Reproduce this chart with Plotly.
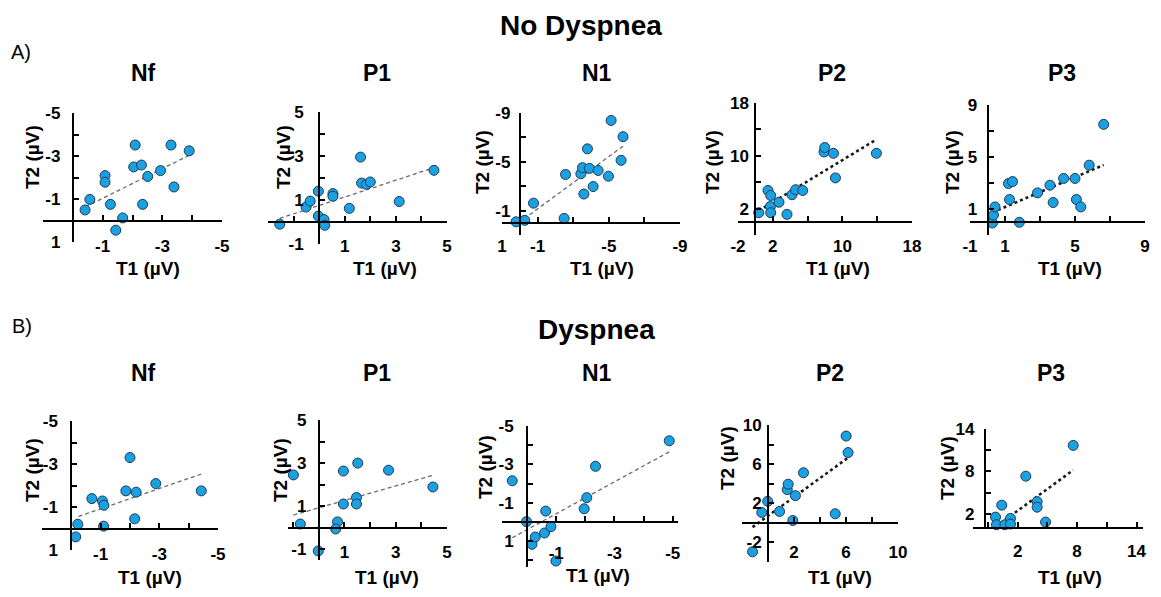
import numpy as np
import plotly.graph_objects as go

# Reference canvas (px) and the page offset of the plot div (browser body margin)
W, H = 1161, 597
OFF = 8
FW, FH = W - 2 * OFF, H - 2 * OFF

# ---------------- DATA (T1 vs T2, µV) ----------------
# No Dyspnea
nodysp_nf_t1 = [-0.41, -0.57, -1.08, -1.08, -1.26, -1.67, -1.44, -2.09, -2.04, -2.30, -2.34, -2.51, -2.94, -3.29, -3.39, -3.90]
nodysp_nf_t2 = [-0.49, -0.98, -2.09, -1.78, -0.75, -0.12, 0.45, -3.51, -2.49, -2.58, -0.75, -2.05, -2.32, -3.51, -1.56, -3.24]
nodysp_p1_t1 = [-1.54, -0.51, -0.35, -0.03, -0.03, 0.19, 0.22, 0.54, 0.54, 1.18, 1.62, 1.66, 1.85, 2.00, 3.13, 4.49]
nodysp_p1_t2 = [-0.10, 0.68, 0.95, 1.40, 0.27, 0.11, -0.15, 1.29, 1.17, 0.62, 2.95, 1.77, 1.71, 1.82, 0.93, 2.35]
nodysp_n1_t1 = [0.21, -0.28, -0.77, -2.49, -2.57, -3.43, -3.52, -3.60, -3.80, -3.91, -4.12, -4.40, -4.98, -5.13, -5.69, -5.80]
nodysp_n1_t2 = [-0.08, -0.20, -1.61, -0.36, -3.96, -4.02, -4.52, -2.36, -6.06, -4.46, -2.97, -4.29, -3.82, -8.39, -5.12, -7.06]
nodysp_p2_t1 = [0.38, 1.45, 1.76, 1.72, 1.76, 2.71, 3.63, 4.21, 4.63, 5.44, 7.89, 7.97, 8.97, 9.20, 13.91]
nodysp_p2_t2 = [1.38, 4.75, 3.99, 2.30, 1.38, 2.97, 1.13, 4.10, 4.86, 4.75, 10.58, 11.26, 10.38, 6.65, 10.38]
nodysp_p3_t1 = [0.28, 0.34, 0.43, 1.20, 1.43, 1.26, 1.82, 2.86, 3.57, 3.75, 4.35, 5.00, 5.08, 5.33, 5.81, 6.64]
nodysp_p3_t2 = [-0.08, 0.54, 1.16, 2.96, 3.11, 1.73, -0.02, 2.24, 2.83, 1.50, 3.35, 3.35, 1.73, 1.16, 4.37, 7.51]
# Dyspnea
dysp_nf_t1 = [-0.15, -0.22, -0.70, -1.06, -1.11, -1.10, -1.86, -2.00, -2.16, -2.21, -2.88, -4.43]
dysp_nf_t2 = [0.39, -0.20, -1.39, -1.28, -1.08, -0.11, -1.75, -3.30, -0.45, -1.69, -2.09, -1.75]
dysp_p1_t1 = [-0.99, -0.72, -0.02, 0.73, 0.66, 0.96, 0.96, 1.47, 1.47, 1.52, 2.72, 4.45]
dysp_p1_t2 = [2.45, 0.17, -1.08, 0.27, -0.06, 2.63, 1.10, 1.40, 1.10, 3.00, 2.67, 1.89]
dysp_n1_t1 = [0.51, 0.02, -0.17, -0.28, -0.60, -0.64, -0.82, -0.99, -1.96, -2.05, -2.35, -4.88]
dysp_n1_t2 = [-2.15, -0.02, 1.16, 0.78, 0.57, -0.57, 0.24, 2.03, -0.69, -1.27, -2.90, -4.23]
dysp_p2_t1 = [-1.19, -0.48, -0.02, 0.89, 1.48, 1.55, 2.11, 1.91, 2.73, 5.17, 6.01, 6.16]
dysp_p2_t2 = [-2.96, 1.06, 2.20, 1.17, 3.40, 3.95, 2.78, 0.24, 5.12, 0.93, 8.87, 7.18]
dysp_p3_t1 = [-0.23, -0.13, 0.40, 0.71, 1.28, 1.28, 2.15, 2.83, 3.97, 3.97, 4.82, 7.61]
dysp_p3_t2 = [1.54, 0.46, 3.23, 0.46, 1.35, 0.56, -0.10, 7.33, 3.73, 2.94, 0.84, 11.68]

# Tick labels shown
nf_xlabels = [-1, -3, -5]
nf_ylabels = [-5, -3, -1, 1]
p1_xlabels = [1, 3, 5]
p1_ylabels = [5, 3, 1, -1]
nodysp_n1_xlabels = [1, -1, -5, -9]
nodysp_n1_ylabels = [-9, -5, -1]
nodysp_p2_xlabels = [-2, 2, 10, 18]
nodysp_p2_ylabels = [18, 10, 2]
nodysp_p3_xlabels = [-1, 1, 5, 9]
nodysp_p3_ylabels = [9, 5, 1]
dysp_n1_xlabels = [-1, -3, -5]
dysp_n1_ylabels = [-5, -3, -1, 1]
dysp_p2_xlabels = [2, 6, 10]
dysp_p2_ylabels = [10, 6, 2, -2]
dysp_p3_xlabels = [2, 8, 14]
dysp_p3_ylabels = [14, 8, 2]

panel_titles = ["Nf", "P1", "N1", "P2", "P3"]

# ---------------- LAYOUT / STYLE ----------------
FONT = "Liberation Sans, Arial, sans-serif"
MARKER_FILL = "#1BA1E2"
MARKER_LINE = "#1F3B57"

# box = (left, right, top, bottom) in reference px of the axis lines
panels = [
    dict(t1=nodysp_nf_t1, t2=nodysp_nf_t2, xr=(1, -5), yr=(1, -5), xs=1, x0=0, ys=1, y0=0,
         xl=nf_xlabels, yl=nf_ylabels, box=(43, 222, 113, 242), xlab=243, ygap=11, trend="dash",
         title=(143, 73), t1lab=(148, 268), t2lab=(32, 157)),
    dict(t1=nodysp_p1_t1, t2=nodysp_p1_t2, xr=(-2, 5), yr=(-1, 5), xs=1, x0=0, ys=1, y0=0,
         xl=p1_xlabels, yl=p1_ylabels, box=(268, 447, 112, 244), xlab=243, ygap=14, trend="dash",
         title=(377, 73), t1lab=(385, 268), t2lab=(283, 157)),
    dict(t1=nodysp_n1_t1, t2=nodysp_n1_t2, xr=(1, -9), yr=(1, -9), xs=2, x0=1, ys=2, y0=1,
         xl=nodysp_n1_xlabels, yl=nodysp_n1_ylabels, box=(502, 680, 113, 235), xlab=243, ygap=8, trend="dash",
         title=(597, 73), t1lab=(602, 268), t2lab=(483, 162)),
    dict(t1=nodysp_p2_t1, t2=nodysp_p2_t2, xr=(-2, 18), yr=(-2, 18), xs=4, x0=2, ys=4, y0=2,
         xl=nodysp_p2_xlabels, yl=nodysp_p2_ylabels, box=(738, 912, 103, 235), xlab=243, ygap=5, trend="dot",
         title=(832, 73), t1lab=(838, 268), t2lab=(713, 162)),
    dict(t1=nodysp_p3_t1, t2=nodysp_p3_t2, xr=(-1, 9), yr=(-1, 9), xs=2, x0=1, ys=2, y0=1,
         xl=nodysp_p3_xlabels, yl=nodysp_p3_ylabels, box=(970, 1145, 105, 235), xlab=243, ygap=9, trend="dot",
         title=(1062, 73), t1lab=(1070, 268), t2lab=(953, 162)),
    dict(t1=dysp_nf_t1, t2=dysp_nf_t2, xr=(1, -5), yr=(1, -5), xs=1, x0=0, ys=1, y0=0,
         xl=nf_xlabels, yl=nf_ylabels, box=(42, 218, 421, 550), xlab=550, ygap=12, trend="dash",
         title=(143, 373), t1lab=(150, 577), t2lab=(32, 470)),
    dict(t1=dysp_p1_t1, t2=dysp_p1_t2, xr=(-1.2, 5), yr=(-1.5, 5), xs=1, x0=0, ys=1, y0=0,
         xl=p1_xlabels, yl=p1_ylabels, box=(288, 447, 420, 560), xlab=549, ygap=11, trend="dash",
         title=(377, 373), t1lab=(387, 577), t2lab=(280, 470)),
    dict(t1=dysp_n1_t1, t2=dysp_n1_t2, xr=(0.86, -5.18), yr=(2.34, -5), xs=1, x0=0, ys=1, y0=0,
         xl=dysp_n1_xlabels, yl=dysp_n1_ylabels, box=(502, 678, 426, 567), xlab=550, ygap=12, trend="dash",
         title=(597, 373), t1lab=(598, 575), t2lab=(485, 467)),
    dict(t1=dysp_p2_t1, t2=dysp_p2_t2, xr=(-2, 10), yr=(-4, 10), xs=2, x0=0, ys=2, y0=0,
         xl=dysp_p2_xlabels, yl=dysp_p2_ylabels, box=(742, 898, 425, 562), xlab=549, ygap=5, trend="dot",
         title=(830, 373), t1lab=(840, 577), t2lab=(727, 458)),
    dict(t1=dysp_p3_t1, t2=dysp_p3_t2, xr=(-2.5, 14.65), yr=(0, 14), xs=3, x0=2, ys=3, y0=2, ycross=-1.3,
         xl=dysp_p3_xlabels, yl=dysp_p3_ylabels, box=(973, 1143, 429, 528), xlab=548, ygap=9, trend="dot",
         title=(1051, 373), t1lab=(1070, 577), t2lab=(948, 468)),
]


def fmt(v):
    return str(int(round(v))) if abs(v - round(v)) < 1e-9 else str(v)


def make_ticks(rng, step, t0, labels):
    lo, hi = min(rng), max(rng)
    k0 = int(np.ceil((lo - t0) / step - 1e-9))
    k1 = int(np.floor((hi - t0) / step + 1e-9))
    vals = [t0 + k * step for k in range(k0, k1 + 1)]
    text = [fmt(v) if any(abs(v - l) < 1e-9 for l in labels) else "" for v in vals]
    return vals, text


def pxx(x):
    return (x - OFF) / FW


def pxy(y):
    return 1 - (y - OFF) / FH


fig = go.Figure()
annotations = []
TICKFONT = dict(family=FONT, size=17, color="black", weight="bold")

for i, p in enumerate(panels, start=1):
    L, R, T, B = p["box"]
    xr0, xr1 = p["xr"]
    yr0, yr1 = p["yr"]
    xsuf = "" if i == 1 else str(i)
    xname, yname = "x" + xsuf, "y" + xsuf

    # axis crossing positions
    xcross = p.get("ycross", 0.0)
    ycross_px = B - (0 - yr0) / (yr1 - yr0) * (B - T)
    xcross_px = L + (xcross - xr0) / (xr1 - xr0) * (R - L)

    xv, xt = make_ticks(p["xr"], p["xs"], p["x0"], p["xl"])
    yv, yt = make_ticks(p["yr"], p["ys"], p["y0"], p["yl"])

    x_standoff = int(round(max(0, (p["xlab"] - ycross_px) - 12)))
    y_standoff = int(round(max(0, p["ygap"] - 3)))

    fig.layout["xaxis" + xsuf] = dict(
        domain=[pxx(L), pxx(R)], range=list(p["xr"]), anchor="free", automargin=False,
        position=pxy(ycross_px), showline=True, linecolor="black", linewidth=2,
        ticks="inside", ticklen=5, tickwidth=1.5, tickcolor="black",
        tickmode="array", tickvals=xv, ticktext=xt, tickfont=TICKFONT,
        ticklabelstandoff=x_standoff, showgrid=False, zeroline=False,
    )
    fig.layout["yaxis" + xsuf] = dict(
        domain=[pxy(B), pxy(T)], range=list(p["yr"]), anchor="free", automargin=False,
        position=pxx(xcross_px), showline=True, linecolor="black", linewidth=2,
        ticks="inside", ticklen=5, tickwidth=1.5, tickcolor="black",
        tickmode="array", tickvals=yv, ticktext=yt, tickfont=TICKFONT,
        ticklabelstandoff=y_standoff, showgrid=False, zeroline=False,
    )

    # trendline (least squares from the data)
    t1 = np.array(p["t1"])
    t2 = np.array(p["t2"])
    slope, icpt = np.polyfit(t1, t2, 1)
    tx = np.array([t1.min(), t1.max()])
    ty = slope * tx + icpt
    if p["trend"] == "dash":
        tline = dict(color="#6b6b6b", width=1.3, dash="4px,3px")
    else:
        tline = dict(color="#1a1a1a", width=2.6, dash="dot")
    fig.add_trace(go.Scatter(x=tx, y=ty, mode="lines", line=tline, xaxis=xname, yaxis=yname,
                             hoverinfo="skip", cliponaxis=False))
    fig.add_trace(go.Scatter(x=t1, y=t2, mode="markers", xaxis=xname, yaxis=yname, cliponaxis=False,
                             marker=dict(size=10, color=MARKER_FILL, line=dict(color=MARKER_LINE, width=1))))

    # texts
    annotations.append(dict(text=panel_titles[(i - 1) % 5], x=pxx(p["title"][0]), y=pxy(p["title"][1]),
                            xref="paper", yref="paper", showarrow=False, xanchor="center", yanchor="middle",
                            font=dict(family=FONT, size=23, color="black", weight="bold")))
    annotations.append(dict(text="T1 (µV)", x=pxx(p["t1lab"][0]), y=pxy(p["t1lab"][1]),
                            xref="paper", yref="paper", showarrow=False, xanchor="center", yanchor="middle",
                            font=dict(family=FONT, size=19, color="black", weight="bold")))
    annotations.append(dict(text="T2 (µV)", x=pxx(p["t2lab"][0]), y=pxy(p["t2lab"][1]),
                            xref="paper", yref="paper", textangle=-90, showarrow=False,
                            xanchor="center", yanchor="middle",
                            font=dict(family=FONT, size=19, color="black", weight="bold")))

# section headers: (text, x center px, top px)
headers = [("No Dyspnea", 581, 9), ("Dyspnea", 596, 313)]
for text, x, y in headers:
    annotations.append(dict(text=text, x=pxx(x), y=pxy(y), xref="paper", yref="paper", showarrow=False,
                            xanchor="center", yanchor="top", borderpad=0,
                            font=dict(family=FONT, size=28, color="black", weight="bold")))
for text, x, y in [("A)", 21, 52), ("B)", 22, 326)]:
    annotations.append(dict(text=text, x=pxx(x), y=pxy(y), xref="paper", yref="paper", showarrow=False,
                            xanchor="center", yanchor="middle",
                            font=dict(family=FONT, size=20, color="black")))

fig.update_layout(
    template="none",
    width=FW, height=FH, margin=dict(l=0, r=0, t=0, b=0, pad=0),
    paper_bgcolor="white", plot_bgcolor="rgba(0,0,0,0)",
    showlegend=False, annotations=annotations,
)

fig.write_html("out.html")
